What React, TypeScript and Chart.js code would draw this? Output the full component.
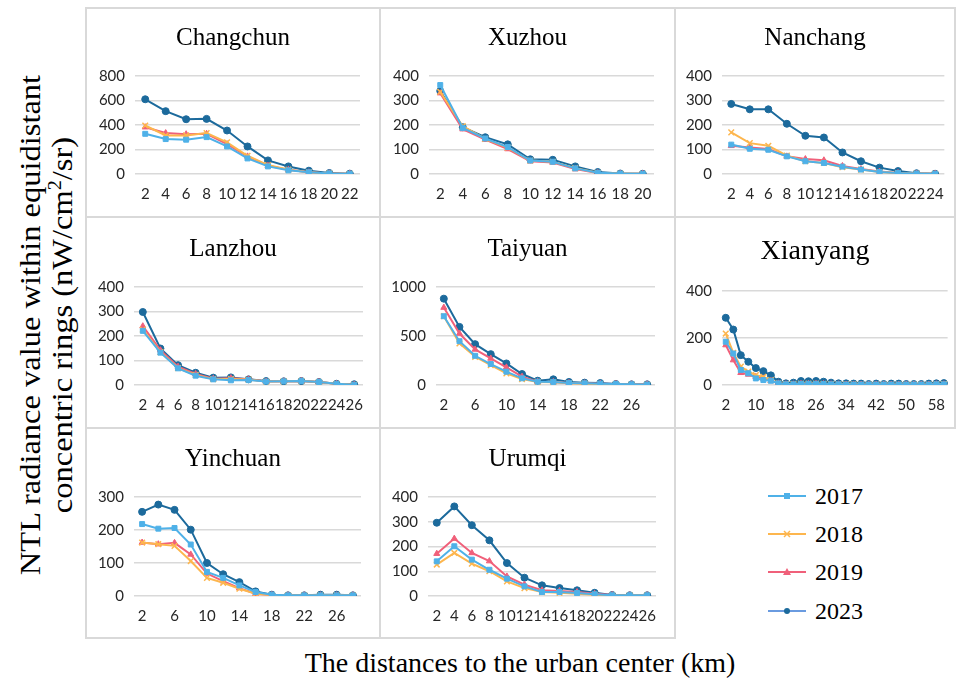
import React, { useEffect, useRef } from "react";
import { Chart, registerables } from "chart.js";
Chart.register(...registerables);

// ---------- data ----------
const YEARS = ["2017", "2018", "2019", "2023"];

const changchunDist = [2, 4, 6, 8, 10, 12, 14, 16, 18, 20, 22];
const changchun2017 = [328, 285, 280, 301, 225, 127, 62, 30, 14, 5, 2];
const changchun2018 = [396, 315, 315, 334, 258, 149, 73, 35, 14, 5, 2];
const changchun2019 = [382, 334, 325, 328, 244, 144, 68, 35, 14, 5, 3];
const changchun2023 = [610, 513, 447, 450, 355, 225, 111, 62, 27, 8, 3];

const xuzhouDist = [2, 4, 6, 8, 10, 12, 14, 16, 18, 20];
const xuzhou2017 = [363, 188, 145, 110, 55, 50, 23, 5, 2, 1];
const xuzhou2018 = [335, 195, 143, 108, 55, 50, 24, 5, 2, 1];
const xuzhou2019 = [330, 183, 140, 102, 52, 47, 20, 4, 1, 1];
const xuzhou2023 = [339, 191, 150, 121, 60, 58, 31, 8, 2, 1];

const nanchangDist = [2, 4, 6, 8, 10, 12, 14, 16, 18, 20, 22, 24];
const nanchang2017 = [120, 103, 99, 72, 52, 45, 30, 18, 8, 4, 2, 1];
const nanchang2018 = [170, 126, 115, 75, 52, 45, 28, 18, 8, 4, 2, 1];
const nanchang2019 = [115, 108, 102, 72, 61, 56, 33, 20, 10, 4, 2, 1];
const nanchang2023 = [286, 264, 264, 205, 156, 149, 88, 52, 26, 12, 3, 1];

const lanzhouDist = [2, 4, 6, 8, 10, 12, 14, 16, 18, 20, 22, 24, 26];
const lanzhou2017 = [221, 132, 68, 38, 23, 19, 20, 14, 15, 16, 12, 5, 1];
const lanzhou2018 = [226, 134, 69, 41, 24, 24, 22, 14, 15, 16, 12, 5, 1];
const lanzhou2019 = [240, 142, 75, 45, 26, 28, 23, 14, 15, 16, 12, 5, 1];
const lanzhou2023 = [298, 149, 81, 50, 30, 31, 23, 16, 15, 16, 12, 5, 3];

const taiyuanDist = [2, 4, 6, 8, 10, 12, 14, 16, 18, 20, 22, 24, 26, 28];
const taiyuan2017 = [702, 447, 298, 214, 136, 68, 34, 31, 20, 17, 14, 10, 7, 5];
const taiyuan2018 = [702, 424, 288, 203, 119, 61, 31, 27, 17, 14, 10, 7, 5, 3];
const taiyuan2019 = [790, 525, 363, 271, 180, 85, 34, 31, 20, 17, 14, 10, 7, 7];
const taiyuan2023 = [881, 593, 417, 315, 220, 112, 44, 58, 31, 24, 20, 10, 7, 7];

const xianyangDist = [2, 4, 6, 8, 10, 12, 14, 16, 18, 20, 22, 24, 26, 28, 30, 32, 34, 36, 38, 40, 42, 44, 46, 48, 50, 52, 54, 56, 58, 60];
const xianyang2017 = [184, 134, 64, 50, 28, 21, 18, 7, 3, 3, 5, 5, 5, 4, 3, 3, 2, 2, 2, 2, 2, 2, 2, 2, 2, 2, 2, 2, 3, 3];
const xianyang2018 = [219, 137, 78, 57, 42, 35, 21, 7, 4, 4, 6, 6, 6, 5, 4, 3, 3, 3, 2, 2, 2, 2, 2, 2, 2, 2, 2, 2, 3, 4];
const xianyang2019 = [170, 106, 52, 45, 35, 28, 18, 7, 3, 3, 5, 5, 5, 4, 3, 3, 2, 2, 2, 2, 2, 2, 2, 2, 2, 2, 2, 2, 3, 3];
const xianyang2023 = [286, 236, 127, 99, 72, 59, 41, 14, 7, 10, 17, 16, 17, 14, 10, 7, 7, 6, 6, 4, 6, 4, 6, 6, 4, 4, 4, 6, 7, 8];

const yinchuanDist = [2, 4, 6, 8, 10, 12, 14, 16, 18, 20, 22, 24, 26, 28];
const yinchuan2017 = [218, 204, 206, 156, 73, 55, 32, 12, 4, 2, 2, 2, 2, 2];
const yinchuan2018 = [162, 157, 152, 106, 55, 40, 22, 7, 3, 2, 2, 2, 2, 2];
const yinchuan2019 = [162, 157, 161, 126, 68, 45, 24, 7, 3, 2, 2, 2, 2, 2];
const yinchuan2023 = [255, 277, 261, 201, 100, 66, 42, 14, 4, 2, 2, 4, 4, 2];

const urumqiDist = [2, 4, 6, 8, 10, 12, 14, 16, 18, 20, 22, 24, 26];
const urumqi2017 = [140, 201, 147, 106, 70, 39, 16, 16, 12, 7, 3, 3, 3];
const urumqi2018 = [127, 174, 131, 100, 59, 32, 16, 13, 9, 5, 3, 3, 3];
const urumqi2019 = [171, 232, 174, 141, 79, 46, 23, 20, 16, 9, 4, 3, 3];
const urumqi2023 = [296, 362, 286, 225, 133, 74, 43, 32, 23, 13, 4, 3, 3];

// ---------- styles ----------
const COLORS = ["#4FB1E8", "#FDB64E", "#F0607A", "#1C6A9C"];
const LEGEND_LINE = ["#4FB1E8", "#FDB64E", "#F0607A", "#6A9BE0"];
const POINT_STYLES = ["rect", "crossRot", "triangle", "circle"];
const GRID = "#d9d9d9";
const TICK_COLOR = "#262626";
const TICK_FONT = { family: "Lato, 'Open Sans', sans-serif", size: 15 };
const SERIF = "'Liberation Serif', 'Times New Roman', serif";

type PanelDef = {
  title: string;
  dist: number[];
  series: number[][];
  max: number;
  step: number;
  every: number;
  cell: [number, number, number, number];
  area: [number, number, number, number];
  titleSize: number;
  baseline: number;
};

const PANELS: PanelDef[] = [
  { title: "Changchun", dist: changchunDist, series: [changchun2017, changchun2018, changchun2019, changchun2023], max: 800, step: 200, every: 1, cell: [86, 8, 294, 209], area: [135, 76, 360, 174], titleSize: 25, baseline: 45 },
  { title: "Xuzhou", dist: xuzhouDist, series: [xuzhou2017, xuzhou2018, xuzhou2019, xuzhou2023], max: 400, step: 100, every: 1, cell: [380, 8, 295, 209], area: [429, 76, 654, 174], titleSize: 25, baseline: 45 },
  { title: "Nanchang", dist: nanchangDist, series: [nanchang2017, nanchang2018, nanchang2019, nanchang2023], max: 400, step: 100, every: 1, cell: [675, 8, 280, 209], area: [722, 76, 950, 174], titleSize: 25, baseline: 45 },
  { title: "Lanzhou", dist: lanzhouDist, series: [lanzhou2017, lanzhou2018, lanzhou2019, lanzhou2023], max: 400, step: 100, every: 1, cell: [86, 217, 294, 211], area: [134, 287, 363, 385], titleSize: 25, baseline: 256 },
  { title: "Taiyuan", dist: taiyuanDist, series: [taiyuan2017, taiyuan2018, taiyuan2019, taiyuan2023], max: 1000, step: 500, every: 2, cell: [380, 217, 295, 211], area: [436, 287, 655, 385], titleSize: 25, baseline: 256 },
  { title: "Xianyang", dist: xianyangDist, series: [xianyang2017, xianyang2018, xianyang2019, xianyang2023], max: 400, step: 200, every: 4, cell: [675, 217, 280, 211], area: [722, 291, 948, 385], titleSize: 28, baseline: 259 },
  { title: "Yinchuan", dist: yinchuanDist, series: [yinchuan2017, yinchuan2018, yinchuan2019, yinchuan2023], max: 300, step: 100, every: 2, cell: [86, 428, 294, 210], area: [134, 497, 361, 596], titleSize: 25, baseline: 466 },
  { title: "Urumqi", dist: urumqiDist, series: [urumqi2017, urumqi2018, urumqi2019, urumqi2023], max: 400, step: 100, every: 1, cell: [380, 428, 295, 210], area: [428, 497, 656, 596], titleSize: 25, baseline: 466 },
];

function Panel({ p }: { p: PanelDef }) {
  const ref = useRef<HTMLCanvasElement>(null);
  const [cx, cy, cw, ch] = p.cell;
  const [l, t, r, b] = p.area;
  useEffect(() => {
    if (!ref.current) return;
    const chart = new Chart(ref.current, {
      type: "line",
      data: {
        labels: p.dist.map(String),
        datasets: p.series.map((d, i) => ({
          label: YEARS[i],
          data: d,
          borderColor: COLORS[i],
          backgroundColor: COLORS[i],
          pointStyle: POINT_STYLES[i] as any,
          pointRadius: i === 1 ? 4 : 3.5,
          pointBorderWidth: i === 1 ? 1.5 : 1,
          borderWidth: 2,
          tension: 0,
          fill: false,
        })),
      },
      options: {
        animation: false,
        responsive: false,
        maintainAspectRatio: false,
        layout: { padding: { left: 0, top: t - cy, right: cx + cw - r, bottom: 0 } },
        plugins: { legend: { display: false }, tooltip: { enabled: false }, title: { display: false } },
        scales: {
          x: {
            type: "category",
            offset: true,
            grid: { display: false, drawTicks: false },
            border: { display: false },
            ticks: {
              autoSkip: false,
              maxRotation: 0,
              minRotation: 0,
              padding: 11,
              color: TICK_COLOR,
              font: TICK_FONT,
              callback: (_v: any, idx: number) => (idx % p.every === 0 ? String(p.dist[idx]) : ""),
            },
            afterFit: (s: any) => {
              s.height = cy + ch - b;
            },
          },
          y: {
            min: 0,
            max: p.max,
            grid: { color: GRID, lineWidth: 1.5, drawTicks: false },
            border: { display: false },
            ticks: {
              stepSize: p.step,
              padding: 10,
              color: TICK_COLOR,
              font: TICK_FONT,
              callback: (v: any) => String(v),
            },
            afterFit: (s: any) => {
              s.width = l - cx;
            },
          },
        },
      },
    } as any);
    return () => chart.destroy();
  }, []);
  return (
    <>
      <canvas
        ref={ref}
        width={cw}
        height={ch}
        style={{ position: "absolute", left: cx, top: cy, width: cw, height: ch }}
      />
      <div
        style={{
          position: "absolute",
          left: cx,
          width: cw,
          top: p.baseline - 0.8375 * p.titleSize,
          textAlign: "center",
          fontFamily: SERIF,
          fontSize: p.titleSize,
          lineHeight: `${p.titleSize}px`,
          color: "#000",
          whiteSpace: "nowrap",
        }}
      >
        {p.title}
      </div>
    </>
  );
}

function LegendMarker({ i }: { i: number }) {
  const c = COLORS[i];
  const cxm = 19, cym = 6;
  let m: React.ReactNode = null;
  if (i === 0) m = <rect x={cxm - 3} y={cym - 3} width={6} height={6} fill={c} />;
  if (i === 1)
    m = (
      <g stroke={c} strokeWidth={1.5}>
        <line x1={cxm - 3} y1={cym - 3} x2={cxm + 3} y2={cym + 3} />
        <line x1={cxm - 3} y1={cym + 3} x2={cxm + 3} y2={cym - 3} />
      </g>
    );
  if (i === 2) m = <polygon points={`${cxm},${cym - 4} ${cxm + 4},${cym + 3} ${cxm - 4},${cym + 3}`} fill={c} />;
  if (i === 3) m = <circle cx={cxm} cy={cym} r={3} fill={c} />;
  return (
    <svg width={38} height={12} style={{ position: "absolute", left: 768, top: -6 }}>
      <line x1={0} y1={cym} x2={38} y2={cym} stroke={LEGEND_LINE[i]} strokeWidth={2} />
      {m}
    </svg>
  );
}

export default function App() {
  const legendY = [496, 534, 572, 611];
  const lines: React.CSSProperties[] = [
    { left: 86, top: 7, width: 869, height: 2 },
    { left: 86, top: 216, width: 869, height: 2 },
    { left: 86, top: 427, width: 869, height: 2 },
    { left: 86, top: 637, width: 589, height: 2 },
    { left: 85, top: 7, width: 2, height: 632 },
    { left: 379, top: 7, width: 2, height: 632 },
    { left: 674, top: 7, width: 2, height: 632 },
    { left: 954, top: 7, width: 2, height: 422 },
  ];
  return (
    <div style={{ position: "absolute", left: 0, top: 0, width: 958, height: 683, background: "#fff", overflow: "hidden" }}>
      {lines.map((s, i) => (
        <div key={"l" + i} style={{ position: "absolute", background: GRID, ...s }} />
      ))}
      {PANELS.map((p) => (
        <Panel key={p.title} p={p} />
      ))}
      {YEARS.map((y, i) => (
        <div key={y} style={{ position: "absolute", left: 0, top: legendY[i], width: 958, height: 0 }}>
          <LegendMarker i={i} />
          <div
            style={{
              position: "absolute",
              left: 815,
              top: -12,
              fontFamily: SERIF,
              fontSize: 24,
              lineHeight: "24px",
              color: "#000",
            }}
          >
            {y}
          </div>
        </div>
      ))}
      <div
        style={{
          position: "absolute",
          left: 46 - 300,
          top: 325 - 32,
          width: 600,
          height: 64,
          transform: "rotate(-90deg) scaleX(1.12)",
          transformOrigin: "50% 50%",
          textAlign: "center",
          fontFamily: SERIF,
          fontSize: 29,
          lineHeight: "32px",
          color: "#000",
          whiteSpace: "nowrap",
        }}
      >
        <div>NTL radiance value within equidistant</div>
        <div>
          concentric rings (nW/cm<sup style={{ fontSize: 18, lineHeight: 0 }}>2</sup>/sr)
        </div>
      </div>
      <div
        style={{
          position: "absolute",
          left: 120,
          width: 800,
          top: 672 - 0.8375 * 28,
          textAlign: "center",
          fontFamily: SERIF,
          fontSize: 28,
          lineHeight: "28px",
          color: "#000",
          whiteSpace: "nowrap",
        }}
      >
        The distances to the urban center (km)
      </div>
    </div>
  );
}
